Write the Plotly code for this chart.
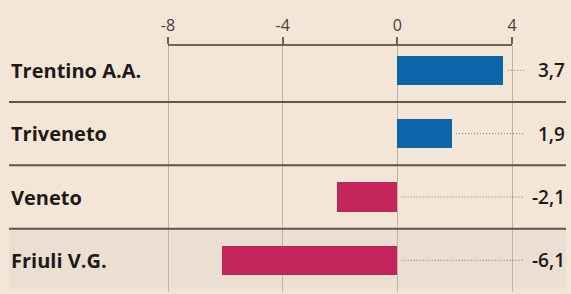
import plotly.graph_objects as go

regions = ["Trentino A.A.", "Triveneto", "Veneto", "Friuli V.G."]
values = [3.7, 1.9, -2.1, -6.1]
tick_vals = [-8, -4, 0, 4]
tick_text = ["-8", "-4", "0", "4"]

W, H = 571, 294
BG = "#f4e6d7"
SHADE = "#ebdfd2"
BLUE = "#0b65a8"
RED = "#c2255b"

pos = list(range(len(regions)))
colors = [BLUE if v >= 0 else RED for v in values]

fig = go.Figure()

# leader dotted lines
for i, v in enumerate(values):
    fig.add_trace(go.Scatter(
        x=[max(v, 0) + 0.15, 4.4], y=[i, i], mode="lines",
        line=dict(color="#7d736b", width=1, dash="1px,2px"),
        hoverinfo="skip", showlegend=False))

fig.add_trace(go.Bar(
    x=values, y=pos, orientation="h", width=0.46,
    marker=dict(color=colors, line=dict(width=0)),
    showlegend=False, hoverinfo="skip"))

shapes = []
shapes.append(dict(type="rect", xref="paper", yref="y",
                   x0=9 / W, x1=566 / W, y0=2.5, y1=3.45,
                   fillcolor=SHADE, line=dict(width=0), layer="below"))
for yb in [0.5, 1.5, 2.5]:
    shapes.append(dict(type="line", xref="paper", yref="y",
                       x0=9 / W, x1=566 / W, y0=yb, y1=yb,
                       line=dict(color="#5f554d", width=2), layer="above"))
shapes.append(dict(type="line", xref="x", yref="paper",
                   x0=-8, x1=4, y0=1, y1=1,
                   line=dict(color="#6e6259", width=2), layer="above"))
fig.update_layout(shapes=shapes)

annotations = []
for i, (r, v) in enumerate(zip(regions, values)):
    annotations.append(dict(
        text=f"<b>{r}</b>", xref="paper", yref="y", x=9 / W, y=i,
        xanchor="left", yanchor="middle", showarrow=False,
        font=dict(family="Open Sans", size=20, color="#1e1a17")))
    annotations.append(dict(
        text=f"{v:.1f}".replace(".", ","), xref="paper", yref="y",
        x=567 / W, y=i, xanchor="right", yanchor="middle", showarrow=False,
        font=dict(family="Open Sans", size=19, color="#1e1a17", weight=600)))
fig.update_layout(annotations=annotations)

px_per_unit = (512 - 168) / 12.0
x_left = -8 - 168 / px_per_unit
x_right = 4 + (W - 512) / px_per_unit

fig.update_layout(
    width=W, height=H,
    margin=dict(l=0, r=0, t=45, b=2),
    paper_bgcolor=BG, plot_bgcolor=BG,
    xaxis=dict(range=[x_left, x_right], side="top",
               tickvals=tick_vals, ticktext=tick_text,
               showgrid=True, gridcolor="#c2b2a1", gridwidth=1,
               zeroline=False, showline=False,
               ticks="outside", ticklen=7, tickcolor="#6e6259", tickwidth=1.5,
               tickfont=dict(family="Open Sans", size=16, color="#463e38"),
               fixedrange=True),
    yaxis=dict(range=[3.5, -0.4], visible=False, showgrid=False,
               zeroline=False, fixedrange=True),
    bargap=0,
)

fig.write_html("out.html", config={"displayModeBar": False},
               post_script="document.body.style.margin='0';document.body.style.padding='0';")
